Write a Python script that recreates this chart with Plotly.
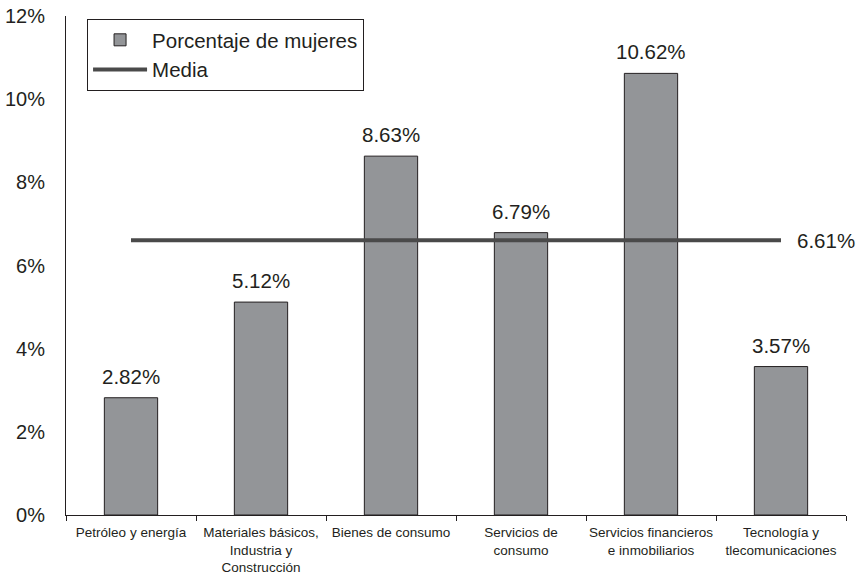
import plotly.graph_objects as go

categories = [
    "Petróleo y energía",
    "Materiales básicos,<br>Industria y<br>Construcción",
    "Bienes de consumo",
    "Servicios de<br>consumo",
    "Servicios financieros<br>e inmobiliarios",
    "Tecnología y<br>tlecomunicaciones",
]
porcentaje_mujeres = [2.82, 5.12, 8.63, 6.79, 10.62, 3.57]
media = 6.61
y_ticks = [0, 2, 4, 6, 8, 10, 12]

ink = "#231f20"
label_font = dict(family="Liberation Sans, Arial", size=20.5, color=ink)
fig = go.Figure()

fig.add_trace(go.Bar(
    x=categories,
    y=porcentaje_mujeres,
    name="Porcentaje de mujeres",
    marker=dict(color="#939598", line=dict(color=ink, width=1)),
    width=0.41,
))

# linea de la media, del centro de la primera categoria al de la ultima
fig.add_trace(go.Scatter(
    x=[categories[0], categories[-1]],
    y=[media, media],
    mode="lines",
    name="Media",
    line=dict(color="#4a4a4a", width=4),
))

fig.add_annotation(
    x=categories[-1], y=media, text="%.2f%%" % media,
    showarrow=False, xanchor="left", xshift=14, font=label_font,
)

for cat, val in zip(categories, porcentaje_mujeres):
    fig.add_annotation(
        x=cat, y=val, text="%.2f%%" % val,
        showarrow=False, yanchor="bottom", yshift=8, font=label_font,
    )

fig.update_layout(
    width=857, height=574,
    margin=dict(l=66, r=11, t=16, b=59),
    paper_bgcolor="white", plot_bgcolor="white",
    font=dict(family="Liberation Sans, Arial", color=ink),
    bargap=0.59,
    showlegend=True,
    legend=dict(
        x=0.027, y=0.994, xanchor="left", yanchor="top",
        bordercolor=ink, borderwidth=1, bgcolor="white",
        font=dict(size=20.5, color=ink),
        tracegroupgap=0, itemwidth=54,
    ),
    xaxis=dict(
        type="category", automargin=False, tickangle=0,
        range=[-0.5, len(categories) - 0.5],
        showline=True, linecolor=ink, linewidth=1,
        ticks="outside", ticklen=5, tickcolor=ink,
        tickson="boundaries", ticklabelstandoff=5,
        tickfont=dict(family="Liberation Sans, Arial", size=13.5, color=ink),
        showgrid=False,
    ),
    yaxis=dict(
        range=[0, 12], tickvals=y_ticks, automargin=False,
        ticktext=["%d%%" % t for t in y_ticks],
        showline=True, linecolor=ink, linewidth=1,
        ticks="", showgrid=False, zeroline=False,
        tickfont=dict(size=20, color=ink),
        ticklabelstandoff=16,
    ),
)

# la pagina trae margen por defecto en el body
fig.write_html(
    "out.html",
    config={"displayModeBar": False},
    post_script="document.body.style.margin='0px';",
)
